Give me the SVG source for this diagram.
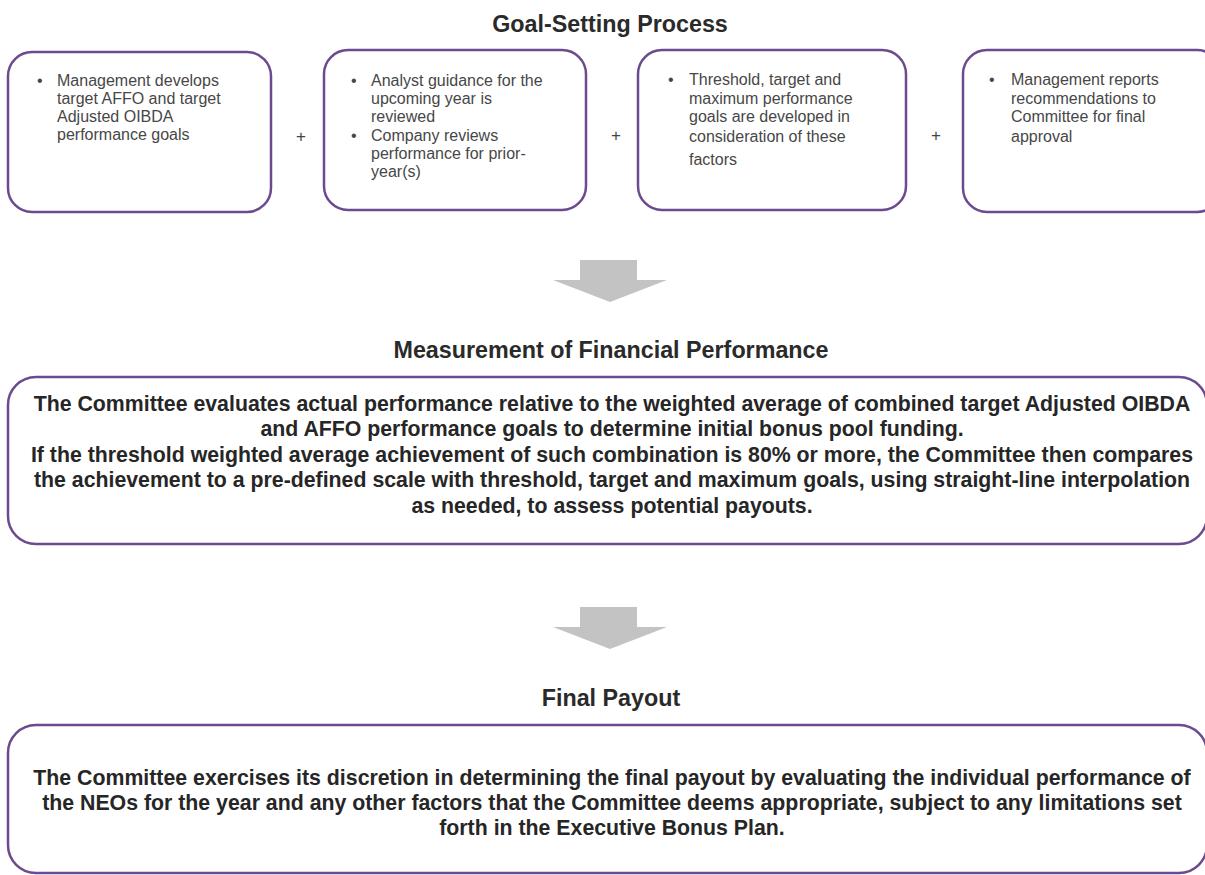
<svg xmlns="http://www.w3.org/2000/svg" width="1205" height="875" viewBox="0 0 1205 875">
<style>
.box{fill:#fff;stroke:#6c4a8e;stroke-width:2.5}
.title{font-family:"Liberation Sans",Arial,sans-serif;font-weight:bold;font-size:23.3px;fill:#2a2a2a;text-anchor:middle}
.b{font-family:"Liberation Sans",Arial,sans-serif;font-size:16px;fill:#474747}
.plus{font-family:"Liberation Sans",Arial,sans-serif;font-size:17px;fill:#444;text-anchor:middle}
.m{font-family:"Liberation Sans",Arial,sans-serif;font-weight:bold;font-size:21.3px;fill:#262626;text-anchor:middle}
.arrow{fill:#c3c3c3}
</style>
<rect width="1205" height="875" fill="#fff"/>
<text class="title" x="610" y="32">Goal-Setting Process</text>
<g id="box1">
<rect class="box" x="8" y="52" width="263" height="160" rx="24"/>
<text class="b"><tspan x="37" y="86">•</tspan><tspan x="57" y="86">Management develops</tspan><tspan x="57" y="104">target AFFO and target</tspan><tspan x="57" y="122">Adjusted OIBDA</tspan><tspan x="57" y="140">performance goals</tspan></text>
</g>
<text class="plus" x="301" y="142">+</text>
<g id="box2">
<rect class="box" x="324" y="50" width="262" height="160" rx="24"/>
<text class="b"><tspan x="351" y="86">•</tspan><tspan x="371" y="86">Analyst guidance for the</tspan><tspan x="371" y="104">upcoming year is</tspan><tspan x="371" y="122">reviewed</tspan><tspan x="351" y="141">•</tspan><tspan x="371" y="141">Company reviews</tspan><tspan x="371" y="159">performance for prior-</tspan><tspan x="371" y="177">year(s)</tspan></text>
</g>
<text class="plus" x="616" y="141">+</text>
<g id="box3">
<rect class="box" x="638" y="50" width="268" height="160" rx="24"/>
<text class="b"><tspan x="668" y="85">•</tspan><tspan x="689" y="85">Threshold, target and</tspan><tspan x="689" y="104">maximum performance</tspan><tspan x="689" y="122">goals are developed in</tspan><tspan x="689" y="142">consideration of these</tspan><tspan x="689" y="165">factors</tspan></text>
</g>
<text class="plus" x="936" y="141">+</text>
<g id="box4">
<rect class="box" x="963" y="50" width="258" height="162" rx="24"/>
<text class="b"><tspan x="989" y="85">•</tspan><tspan x="1011" y="85">Management reports</tspan><tspan x="1011" y="104">recommendations to</tspan><tspan x="1011" y="122">Committee for final</tspan><tspan x="1011" y="142">approval</tspan></text>
</g>
<g id="connectors">
<polygon class="arrow" points="580,260 637,260 637,280 667,280 610,302 553,280 580,280"/>
<polygon class="arrow" points="580,607 637,607 637,627 667,627 610,649 553,627 580,627"/>
</g>
<text class="title" x="611" y="358">Measurement of Financial Performance</text>
<g id="measure">
<rect class="box" x="8" y="377" width="1199" height="167" rx="28"/>
<text class="m"><tspan x="612" y="411">The Committee evaluates actual performance relative to the weighted average of combined target Adjusted OIBDA</tspan><tspan x="612" y="436">and AFFO performance goals to determine initial bonus pool funding.</tspan><tspan x="612" y="462">If the threshold weighted average achievement of such combination is 80% or more, the Committee then compares</tspan><tspan x="612" y="487">the achievement to a pre-defined scale with threshold, target and maximum goals, using straight-line interpolation</tspan><tspan x="612" y="513">as needed, to assess potential payouts.</tspan></text>
</g>
<text class="title" x="611" y="706">Final Payout</text>
<g id="final">
<rect class="box" x="8" y="725" width="1199" height="148" rx="28"/>
<text class="m"><tspan x="612" y="785">The Committee exercises its discretion in determining the final payout by evaluating the individual performance of</tspan><tspan x="612" y="810">the NEOs for the year and any other factors that the Committee deems appropriate, subject to any limitations set</tspan><tspan x="612" y="835">forth in the Executive Bonus Plan.</tspan></text>
</g>
</svg>
